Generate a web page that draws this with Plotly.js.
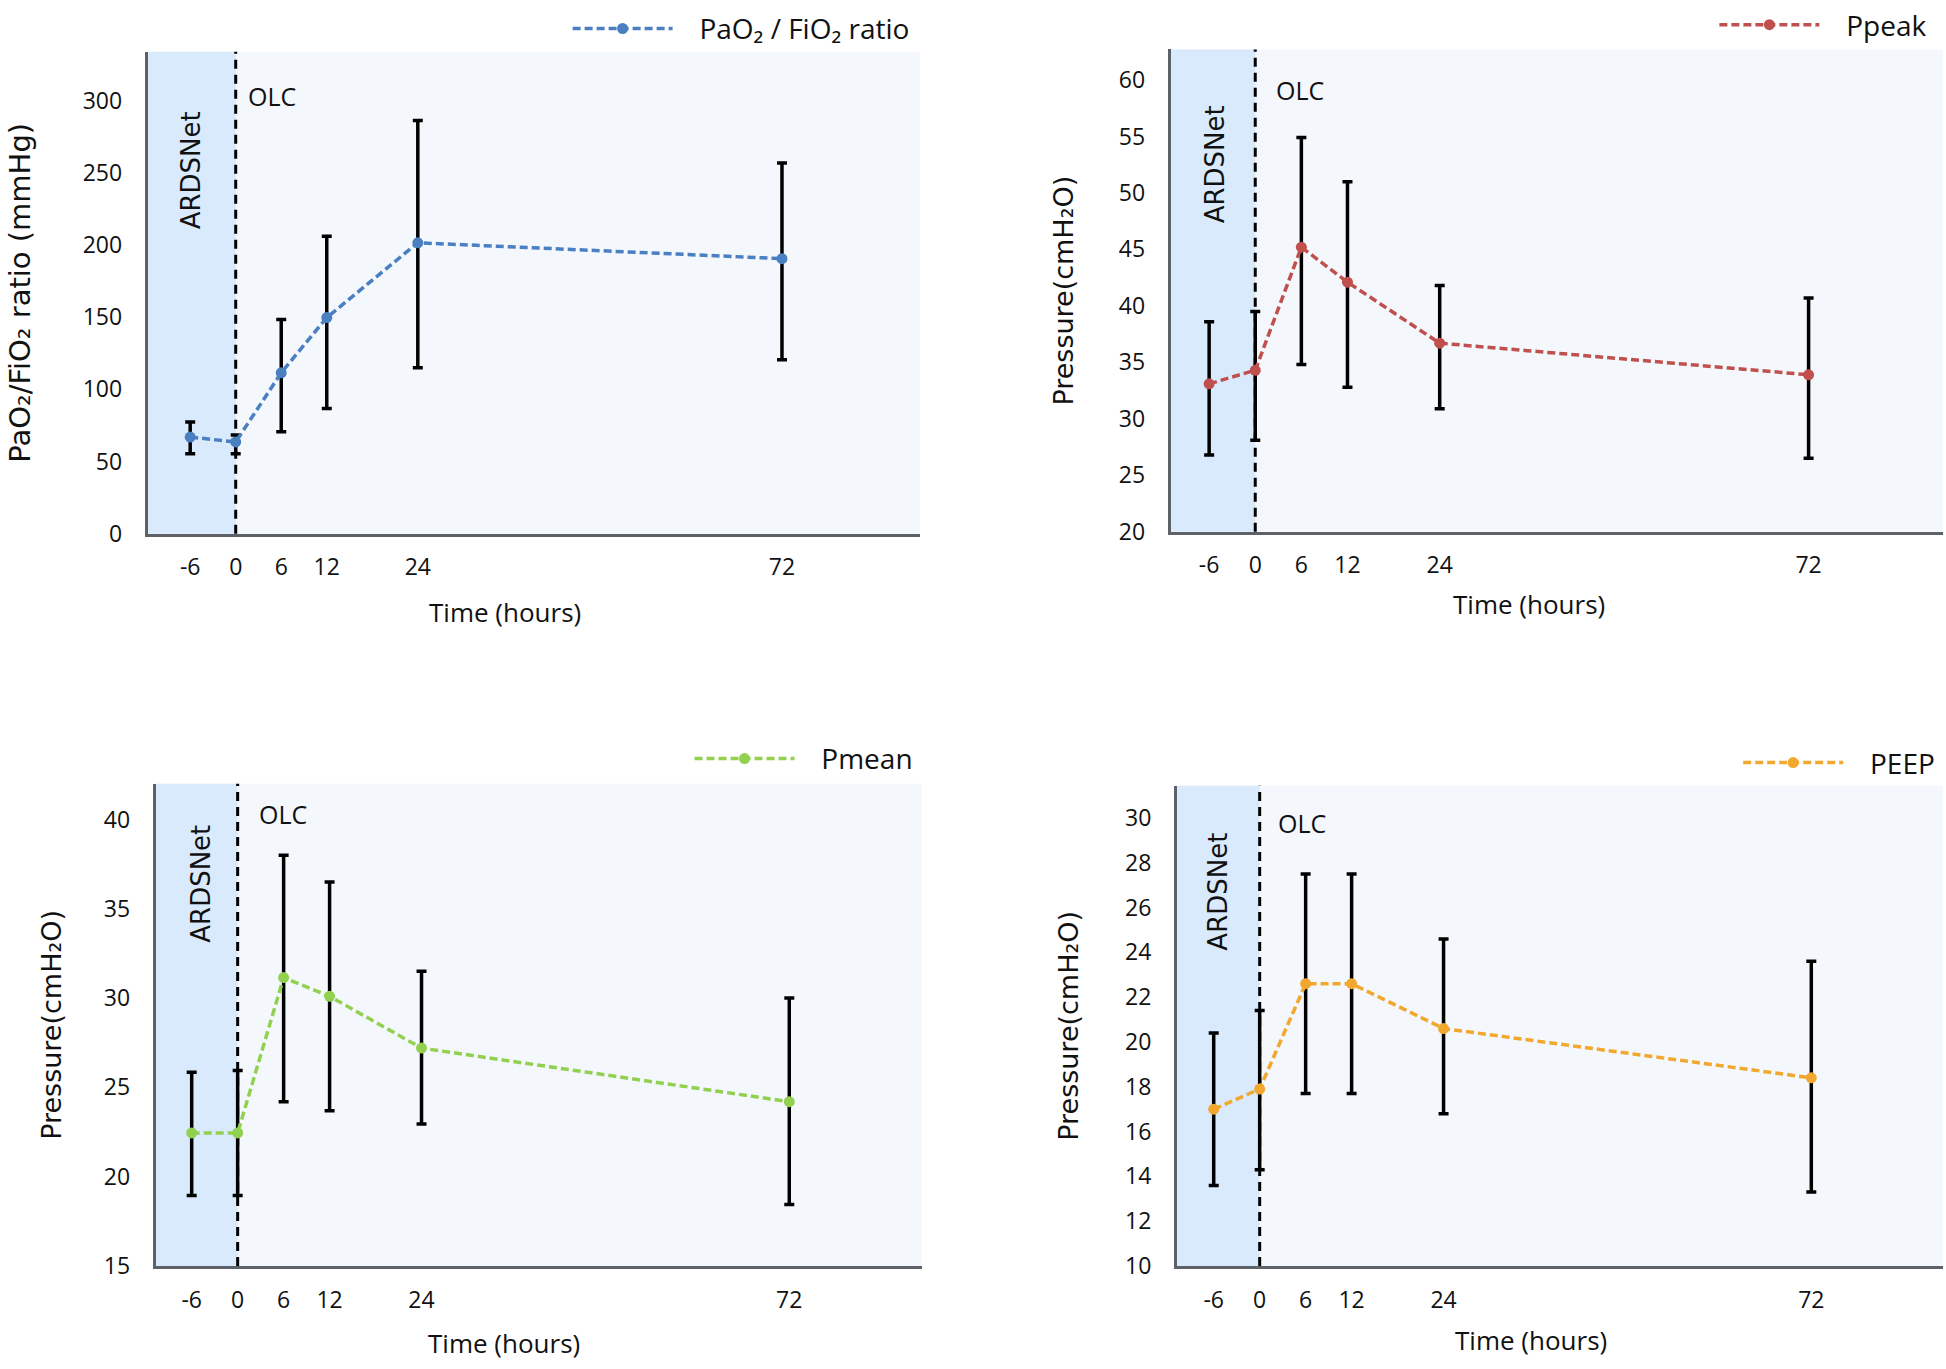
<!DOCTYPE html>
<html>
<head>
<meta charset="utf-8">
<script src="https://cdn.plot.ly/plotly-3.0.1.min.js"></script>
<style>body{margin:0;background:#fff}</style>
</head>
<body>
<div id="myDiv" style="width:1946px;height:1369px"></div>
<script>
// time points (hours) and tick labels
var hours = [-6, 0, 6, 12, 24, 72];
var tickHours = [-6, 0, 6, 12, 24, 72];
var tickLabels = ['-6', '0', '6', '12', '24', '72'];

// PaO2/FiO2 ratio, mean and error bar ends
var pfRatio = [67, 63.6, 111.5, 149.7, 201.5, 190.5];
var pfHigh = [77.4, 68.4, 148.3, 206, 286.2, 256.7];
var pfLow = [55.4, 55.4, 70.6, 86.7, 115, 120.5];

// Ppeak
var ppeak = [33.1, 34.3, 45.2, 42.1, 36.7, 33.9];
var ppeakHigh = [38.6, 39.5, 54.9, 51.0, 41.8, 40.7];
var ppeakLow = [26.8, 28.1, 34.8, 32.8, 30.9, 26.5];

// Pmean
var pmean = [22.45, 22.45, 31.15, 30.1, 27.2, 24.2];
var pmeanHigh = [25.85, 25.95, 38.0, 36.5, 31.5, 30.0];
var pmeanLow = [18.95, 18.95, 24.2, 23.7, 22.95, 18.45];

// PEEP
var peep = [17.0, 17.9, 22.6, 22.6, 20.6, 18.4];
var peepHigh = [20.4, 21.4, 27.5, 27.5, 24.6, 23.6];
var peepLow = [13.6, 14.3, 17.7, 17.7, 16.8, 13.3];

var tickFont = {family: 'Open Sans', size: 23, color: '#111'};
var wideFont = {family: 'DejaVu Sans', size: 26, color: '#111'};
var textFont = {family: 'Open Sans', size: 25, color: '#111'};
var timeFont = {family: 'Open Sans', size: 26, color: '#111'};
var legendFont = {family: 'Open Sans', size: 28, color: '#111'};

function suffix(n) { return n == 1 ? '' : String(n); }

function series(n, name, y, hi, lo, color) {
  return {
    x: hours, y: y, name: '\u00a0\u00a0\u00a0' + name,
    type: 'scatter', mode: 'lines+markers',
    xaxis: 'x' + suffix(n), yaxis: 'y' + suffix(n),
    legend: 'legend' + suffix(n),
    line: {color: color, width: 3.5, dash: '8px,4px'},
    marker: {color: color, size: 11},
    error_y: {
      type: 'data', symmetric: false,
      array: hi.map(function (v, i) { return v - y[i]; }),
      arrayminus: lo.map(function (v, i) { return y[i] - v; }),
      color: '#000', thickness: 3.5, width: 5
    }
  };
}

function xAxis(n, domain, range) {
  return {
    domain: domain, range: range, anchor: 'y' + suffix(n),
    tickvals: tickHours, ticktext: tickLabels,
    showgrid: false, zeroline: false,
    showline: true, linecolor: '#5d6168', linewidth: 3,
    ticks: 'outside', ticklen: 11, tickcolor: 'rgba(0,0,0,0)',
    tickfont: tickFont
  };
}

function yAxis(n, domain, range, dtick, title, titleSize, standoff) {
  return {
    domain: domain, range: range, anchor: 'x' + suffix(n),
    dtick: dtick, tick0: 0,
    showgrid: false, zeroline: false,
    showline: true, linecolor: '#5d6168', linewidth: 3,
    ticks: 'outside', ticklen: 18, tickcolor: 'rgba(0,0,0,0)',
    tickfont: tickFont,
    title: {text: title, font: {family: 'DejaVu Sans', size: titleSize, color: '#111'}, standoff: standoff}
  };
}

function panelDecor(n, xmin, ardsX, ardsY, olcX, olcY, timeX, timeY) {
  var xr = 'x' + suffix(n), yr = 'y' + suffix(n);
  var shapes = [
    {type: 'rect', xref: xr, yref: yr + ' domain', x0: xmin, x1: 0, y0: 0, y1: 1,
     fillcolor: '#d9eafc', line: {width: 0}, layer: 'below'},
    {type: 'line', xref: xr, yref: yr + ' domain', x0: 0, x1: 0, y0: 0, y1: 1,
     line: {color: '#000', width: 3, dash: '9px,6px'}, layer: 'below'}
  ];
  var annotations = [
    {xref: xr, yref: yr + ' domain', x: ardsX, y: ardsY, text: 'ARDSNet',
     textangle: -90, xanchor: 'center', yanchor: 'middle', showarrow: false, font: wideFont},
    {xref: xr, yref: yr + ' domain', x: olcX, y: olcY, text: 'OLC',
     xanchor: 'left', yanchor: 'middle', showarrow: false, font: textFont},
    {xref: xr + ' domain', yref: yr + ' domain', x: timeX, y: timeY, text: 'Time (hours)',
     xanchor: 'center', yanchor: 'middle', showarrow: false, font: timeFont}
  ];
  return {shapes: shapes, annotations: annotations};
}

function legendAt(x, y) {
  return {
    x: x, y: y, xanchor: 'right', yanchor: 'middle',
    bgcolor: 'rgba(0,0,0,0)', font: legendFont, itemwidth: 100
  };
}

var data = [
  series(1, 'PaO₂ / FiO₂ ratio', pfRatio, pfHigh, pfLow, '#4a7fc1'),
  series(2, 'Ppeak', ppeak, ppeakHigh, ppeakLow, '#c0504d'),
  series(3, 'Pmean', pmean, pmeanHigh, pmeanLow, '#92d050'),
  series(4, 'PEEP', peep, peepHigh, peepLow, '#f2a72e')
];

var d1 = panelDecor(1, -11.6, -5.9, 0.754, 1.3, 0.908, 0.462, -0.162);
var d2 = panelDecor(2, -11.0, -5.3, 0.761, 2.4, 0.915, 0.464, -0.149);
var d3 = panelDecor(3, -10.7, -4.9, 0.793, 2.5, 0.937, 0.455, -0.159);
var d4 = panelDecor(4, -10.8, -5.4, 0.78, 2.1, 0.923, 0.462, -0.155);

var layout = {
  width: 1946, height: 1369,
  margin: {l: 0, r: 0, t: 0, b: 0},
  paper_bgcolor: '#fff', plot_bgcolor: '#f4f8fd',
  font: {family: 'Open Sans', color: '#111'},
  showlegend: true,
  xaxis: xAxis(1, [0.0759, 0.4728], [-11.6, 90.2]),
  yaxis: yAxis(1, [0.6132, 0.9671], [0, 333.7], 50, 'PaO₂/FiO₂ ratio (mmHg)', 29, 44),
  xaxis2: xAxis(2, [0.6016, 0.9985], [-11.0, 89.5]),
  yaxis2: yAxis(2, [0.6147, 0.9688], [20, 62.7], 5, 'Pressure(cmH₂O)', 27, 38),
  xaxis3: xAxis(3, [0.0800, 0.4737], [-10.7, 89.3]),
  yaxis3: yAxis(3, [0.0756, 0.4297], [15, 42], 5, 'Pressure(cmH₂O)', 27, 35),
  xaxis4: xAxis(4, [0.6048, 0.9985], [-10.8, 89.2]),
  yaxis4: yAxis(4, [0.0756, 0.4283], [10, 31.44], 2, 'Pressure(cmH₂O)', 27, 39),
  legend: legendAt(0.470, 0.984),
  legend2: legendAt(0.993, 0.987),
  legend3: legendAt(0.472, 0.448),
  legend4: legendAt(0.997, 0.445),
  shapes: d1.shapes.concat(d2.shapes, d3.shapes, d4.shapes),
  annotations: d1.annotations.concat(d2.annotations, d3.annotations, d4.annotations)
};

Plotly.newPlot('myDiv', data, layout, {staticPlot: true});
</script>
</body>
</html>
